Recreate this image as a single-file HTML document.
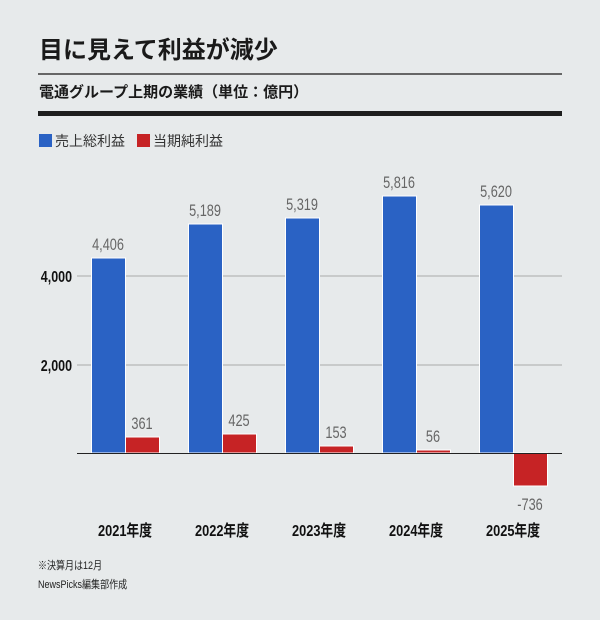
<!DOCTYPE html>
<html><head><meta charset="utf-8"><style>
html,body{margin:0;padding:0;background:#e7eaeb;}
body{width:600px;height:620px;overflow:hidden;}
svg{display:block}
</style></head><body>
<svg width="600" height="620" xmlns="http://www.w3.org/2000/svg" font-family="'Liberation Sans','Noto Sans CJK JP',sans-serif">
<rect width="600" height="620" fill="#e7eaeb"/>
<text x="39" y="58" font-size="24" font-weight="bold" fill="#1a1a1a">目に見えて利益が減少</text>
<rect x="38" y="73" width="524" height="2" fill="#666"/>
<text x="39" y="97" font-size="15" font-weight="bold" fill="#1a1a1a">電通グループ上期の業績（単位：億円）</text>
<rect x="38" y="111" width="524" height="5" fill="#1e1e1e"/>
<rect x="39" y="134" width="13" height="13" fill="#2a62c4"/>
<text x="55" y="146" font-size="14" fill="#333">売上総利益</text>
<rect x="137" y="134" width="13" height="13" fill="#c62325"/>
<text x="153" y="146" font-size="14" fill="#333">当期純利益</text>
<line x1="77" y1="276" x2="562" y2="276" stroke="#aaa" stroke-width="1"/>
<line x1="77" y1="365" x2="562" y2="365" stroke="#aaa" stroke-width="1"/>
<g font-size="16" font-weight="bold" fill="#111" text-anchor="end">
<text transform="translate(72,282) scale(0.78,1)">4,000</text>
<text transform="translate(72,371) scale(0.78,1)">2,000</text>
</g>
<g stroke="#fff" stroke-width="1">
<rect x="91.5" y="258" width="34" height="195" fill="#2a62c4"/>
<rect x="125.5" y="437" width="34" height="16" fill="#c62325"/>
<rect x="188.5" y="224" width="34" height="229" fill="#2a62c4"/>
<rect x="222.5" y="434" width="34" height="19" fill="#c62325"/>
<rect x="285.5" y="218" width="34" height="235" fill="#2a62c4"/>
<rect x="319.5" y="446" width="34" height="7" fill="#c62325"/>
<rect x="382.5" y="196" width="34" height="257" fill="#2a62c4"/>
<rect x="416.5" y="450" width="34" height="3" fill="#c62325"/>
<rect x="479.5" y="205" width="34" height="248" fill="#2a62c4"/>
<rect x="513.5" y="453" width="34" height="33" fill="#c62325"/>
</g>
<line x1="77" y1="453.5" x2="562" y2="453.5" stroke="#222" stroke-width="1"/>
<g font-size="17" fill="#666" text-anchor="middle">
<text transform="translate(108,250) scale(0.75,1)">4,406</text>
<text transform="translate(142,429) scale(0.75,1)">361</text>
<text transform="translate(205,216) scale(0.75,1)">5,189</text>
<text transform="translate(239,426) scale(0.75,1)">425</text>
<text transform="translate(302,210) scale(0.75,1)">5,319</text>
<text transform="translate(336,438) scale(0.75,1)">153</text>
<text transform="translate(399,188) scale(0.75,1)">5,816</text>
<text transform="translate(433,442) scale(0.75,1)">56</text>
<text transform="translate(496,197) scale(0.75,1)">5,620</text>
<text transform="translate(530,510) scale(0.75,1)">-736</text>
</g>
<g font-size="16" fill="#111" text-anchor="middle" font-weight="bold">
<text transform="translate(125,536) scale(0.8,1)">2021年度</text>
<text transform="translate(222,536) scale(0.8,1)">2022年度</text>
<text transform="translate(319,536) scale(0.8,1)">2023年度</text>
<text transform="translate(416,536) scale(0.8,1)">2024年度</text>
<text transform="translate(513,536) scale(0.8,1)">2025年度</text>
</g>
<g font-size="11" fill="#222">
<text transform="translate(38,569) scale(0.82,1)">※決算月は12月</text>
<text transform="translate(38,588) scale(0.82,1)">NewsPicks編集部作成</text>
</g>
</svg>
</body></html>
